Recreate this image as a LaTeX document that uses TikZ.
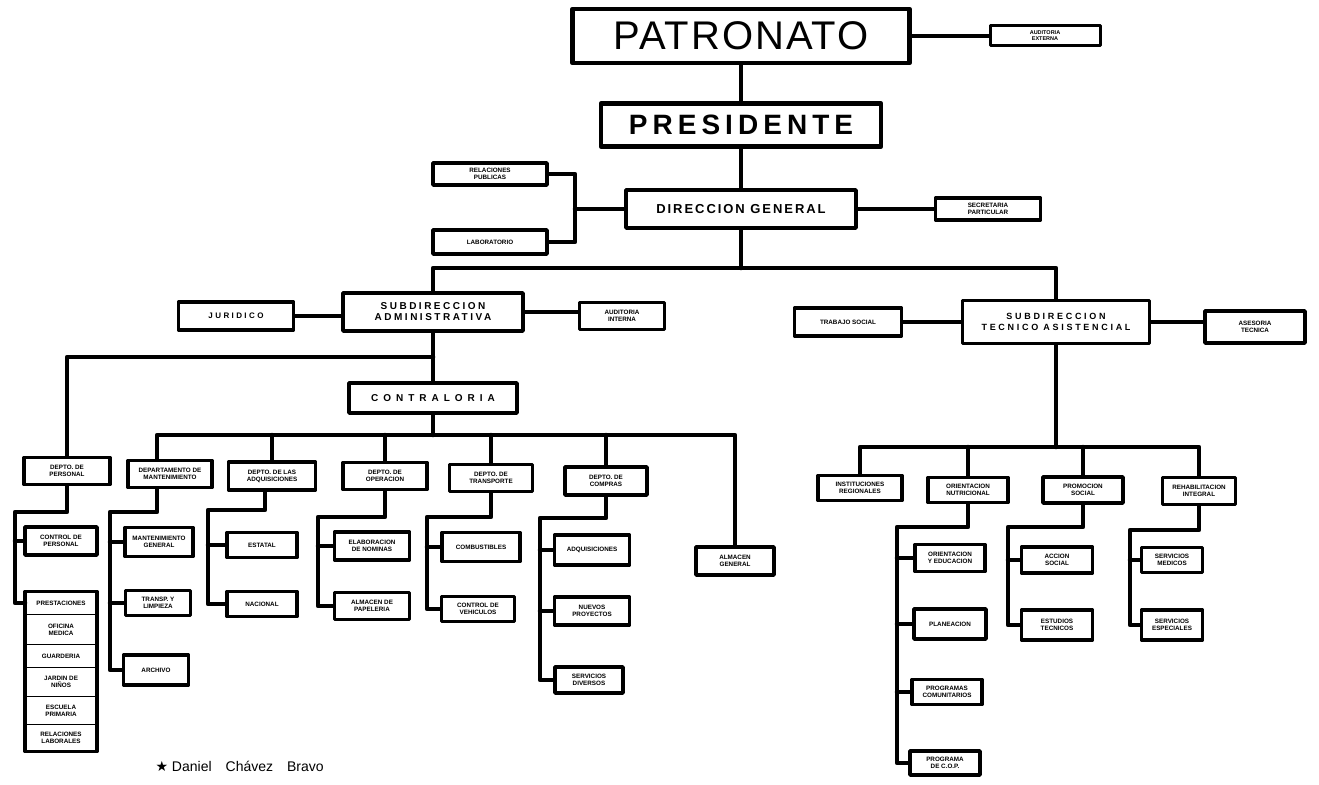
\documentclass[tikz,border=0pt]{standalone}
\usepackage{fontspec}
\setmainfont{Liberation Sans}
\newfontfamily\simbolo{DejaVu Sans}
\usetikzlibrary{positioning}

\newcommand{\chico}{\fontsize{6.3}{7}\selectfont\bfseries}
\tikzset{
  caja/.style 2 args={draw,line width=3.5pt,fill=white,inner sep=1pt,align=center,
    minimum width=#1,minimum height=#2,font=\chico},
  celda/.style={draw,line width=1.8pt,fill=white,inner sep=1pt,outer sep=0pt,
    align=center,minimum width=72,font=\chico},
  linea/.style={line width=4.5pt}
}

\begin{document}
\begin{tikzpicture}[line cap=round,line join=round,x=1pt,y=-1pt]
\useasboundingbox (0,0) rectangle (1319,784);
% cabeza
\node[caja={337}{54},line width=4.5pt,font=\fontsize{40}{40}\selectfont\addfontfeature{LetterSpace=5}] (pat) at (741,36) {PATRONATO};
\node[caja={110}{20},line width=3pt,font=\fontsize{5.5}{6}\selectfont\bfseries] (audext) at (1045,36) {AUDITORIA\\EXTERNA};
\node[caja={280}{43},line width=4.5pt,font=\fontsize{28}{28}\selectfont\bfseries\addfontfeature{LetterSpace=18}] (pres) at (741,125) {PRESIDENTE};
\node[caja={230}{38},font=\fontsize{13}{13}\selectfont\bfseries\addfontfeature{LetterSpace=15}] (dg) at (741,209) {DIRECCION GENERAL};
\node[caja={114}{22}] (relp) at (490,174) {RELACIONES\\PUBLICAS};
\node[caja={114}{24}] (lab) at (490,242) {LABORATORIO};
\node[caja={105}{22}] (secp) at (988,209) {SECRETARIA\\PARTICULAR};
\draw[linea] (pat.south) -- (pres.north);
\draw[linea] (pat.east) -- (audext.west);
\draw[linea] (pres.south) -- (dg.north);
\draw[linea] (dg.east) -- (secp.west);
\coordinate (nudoB) at (575,209);
\draw[linea] (dg.west) -- (nudoB);
\draw[linea] (relp.east) -| (nudoB) |- (lab.east);

% subdirecciones
\node[caja={180}{38},font=\fontsize{10}{11}\selectfont\bfseries\addfontfeature{LetterSpace=25}] (sadm) at (433,312) {SUBDIRECCION\\ADMINISTRATIVA};
\node[caja={115}{28},font=\fontsize{8}{8}\selectfont\bfseries\addfontfeature{LetterSpace=30}] (jur) at (236,316) {JURIDICO};
\node[caja={85}{27}] (audint) at (622,316) {AUDITORIA\\INTERNA};
\node[caja={187}{43},font=\fontsize{9}{11}\selectfont\bfseries\addfontfeature{LetterSpace=30}] (stec) at (1056,322) {SUBDIRECCION\\TECNICO ASISTENCIAL};
\node[caja={107}{28}] (trab) at (848,322) {TRABAJO SOCIAL};
\node[caja={100}{32}] (aset) at (1255,327) {ASESORIA\\TECNICA};
\coordinate (nudoA) at (741,268);
\draw[linea] (dg.south) -- (nudoA);
\draw[linea] (sadm.north) |- (nudoA) -| (stec.north);
\draw[linea] (jur.east) -- (jur.east -| sadm.west);
\draw[linea] (sadm.east) -- (sadm.east -| audint.west);
\draw[linea] (trab.east) -- (trab.east -| stec.west);
\draw[linea] (stec.east) -- (stec.east -| aset.west);

% rama administrativa
\node[caja={168}{30},font=\fontsize{10}{10}\selectfont\bfseries\addfontfeature{LetterSpace=50}] (cont) at (433,398) {CONTRALORIA};
\node[caja={86}{27}] (pers) at (67,471) {DEPTO. DE\\PERSONAL};
\node[caja={84}{27}] (mant) at (170,474) {DEPARTAMENTO DE\\MANTENIMIENTO};
\node[caja={87}{28}] (adq) at (272,476) {DEPTO. DE LAS\\ADQUISICIONES};
\node[caja={84}{27}] (oper) at (385,476) {DEPTO. DE\\OPERACION};
\node[caja={83}{27}] (trans) at (491,478) {DEPTO. DE\\TRANSPORTE};
\node[caja={82}{28}] (comp) at (606,481) {DEPTO. DE\\COMPRAS};
\node[caja={78}{28}] (alm) at (735,561) {ALMACEN\\GENERAL};
\coordinate (nudoC) at (433,357);
\coordinate (nudoD) at (433,435);
\draw[linea] (sadm.south) -- (cont.north);
\draw[linea] (nudoC) -| (pers.north);
\draw[linea] (cont.south) -- (nudoD);
\draw[linea] ([xshift=-13pt]mant.north) |- (nudoD) -| (alm.north);
\foreach \d in {adq,oper,trans,comp}
  \draw[linea] (\d.north) -- (\d.north |- nudoD);

% personal
\node[caja={72}{28}] (ctrlp) at (61,541) {CONTROL DE\\PERSONAL};
\node[celda,minimum height=23] (prest) at (61,603) {PRESTACIONES};
\node[celda,minimum height=30,below=0pt of prest] (ofmed) {OFICINA\\MEDICA};
\node[celda,minimum height=23,below=0pt of ofmed] (guard) {GUARDERIA};
\node[celda,minimum height=29,below=0pt of guard] (jardin) {JARDIN DE\\NIÑOS};
\node[celda,minimum height=28,below=0pt of jardin] (escu) {ESCUELA\\PRIMARIA};
\node[celda,minimum height=27,below=0pt of escu] (relab) {RELACIONES\\LABORALES};
\draw[line width=3.5pt] (prest.north west) rectangle (relab.south east);
\coordinate (tP) at (15,512);
\draw[linea] (pers.south) |- (tP) |- (prest.west);
\draw[linea] (ctrlp.west) -- (ctrlp.west -| tP);

% mantenimiento
\node[caja={68}{29}] (mantg) at (159,542) {MANTENIMIENTO\\GENERAL};
\node[caja={65}{25}] (transl) at (158,603) {TRANSP. Y\\LIMPIEZA};
\node[caja={65}{30}] (arch) at (156,670) {ARCHIVO};
\coordinate (tM) at (110,512);
\draw[linea] ([xshift=-13pt]mant.south) |- (tM) |- (arch.west);
\foreach \h in {mantg,transl}
  \draw[linea] (\h.west) -- (\h.west -| tM);

% adquisiciones
\node[caja={70}{25}] (est) at (262,545) {ESTATAL};
\node[caja={70}{25}] (nac) at (262,604) {NACIONAL};
\coordinate (tA) at (208,510);
\draw[linea] ([xshift=-7pt]adq.south) |- (tA) |- (nac.west);
\draw[linea] (est.west) -- (est.west -| tA);

% operacion
\node[caja={75}{28}] (elab) at (372,546) {ELABORACION\\DE NOMINAS};
\node[caja={75}{27}] (almp) at (372,606) {ALMACEN DE\\PAPELERIA};
\coordinate (tO) at (318,517);
\draw[linea] (oper.south) |- (tO) |- (almp.west);
\draw[linea] (elab.west) -- (elab.west -| tO);

% transporte
\node[caja={78}{29}] (comb) at (481,547) {COMBUSTIBLES};
\node[caja={73}{25}] (ctrlv) at (478,609) {CONTROL DE\\VEHICULOS};
\coordinate (tT) at (427,517);
\draw[linea] (trans.south) |- (tT) |- (ctrlv.west);
\draw[linea] (comb.west) -- (comb.west -| tT);

% compras
\node[caja={75}{30}] (adqs) at (592,550) {ADQUISICIONES};
\node[caja={75}{28}] (nuev) at (592,611) {NUEVOS\\PROYECTOS};
\node[caja={68}{26}] (serv) at (589,680) {SERVICIOS\\DIVERSOS};
\coordinate (tC) at (540,518);
\draw[linea] (comp.south) |- (tC) |- (serv.west);
\foreach \h in {adqs,nuev}
  \draw[linea] (\h.west) -- (\h.west -| tC);

% rama tecnica
\node[caja={84}{25}] (inst) at (860,488) {INSTITUCIONES\\REGIONALES};
\node[caja={80}{25}] (orie) at (968,490) {ORIENTACION\\NUTRICIONAL};
\node[caja={80}{26}] (prom) at (1083,490) {PROMOCION\\SOCIAL};
\node[caja={73}{27}] (rehab) at (1199,491) {REHABILITACION\\INTEGRAL};
\coordinate (nudoE) at (1056,447);
\draw[linea] (stec.south) -- (nudoE);
\draw[linea] (inst.north) |- (nudoE) -| (rehab.north);
\foreach \d in {orie,prom}
  \draw[linea] (\d.north) -- (\d.north |- nudoE);

% orientacion
\node[caja={70}{27}] (ored) at (950,558) {ORIENTACION\\Y EDUCACION};
\node[caja={72}{30}] (plan) at (950,624) {PLANEACION};
\node[caja={70}{25}] (progc) at (947,692) {PROGRAMAS\\COMUNITARIOS};
\node[caja={70}{24}] (progd) at (945,763) {PROGRAMA\\DE C.O.P.};
\coordinate (tR) at (897,527);
\draw[linea] (orie.south) |- (tR) |- (progd.west);
\foreach \h in {ored,plan,progc}
  \draw[linea] (\h.west) -- (\h.west -| tR);

% promocion
\node[caja={71}{26}] (acc) at (1057,560) {ACCION\\SOCIAL};
\node[caja={71}{30}] (estt) at (1057,625) {ESTUDIOS\\TECNICOS};
\coordinate (tS) at (1008,527);
\draw[linea] (prom.south) |- (tS) |- (estt.west);
\draw[linea] (acc.west) -- (acc.west -| tS);

% rehabilitacion
\node[caja={61}{25}] (servm) at (1172,560) {SERVICIOS\\MEDICOS};
\node[caja={61}{30}] (serve) at (1172,625) {SERVICIOS\\ESPECIALES};
\coordinate (tI) at (1130,530);
\draw[linea] (rehab.south) |- (tI) |- (serve.west);
\draw[linea] (servm.west) -- (servm.west -| tI);

% firma
\node[font=\fontsize{14}{14}\selectfont,anchor=west] (firma) at (152,766) {{\simbolo ★}\ Daniel\quad Chávez\quad Bravo};
\end{tikzpicture}
\end{document}
